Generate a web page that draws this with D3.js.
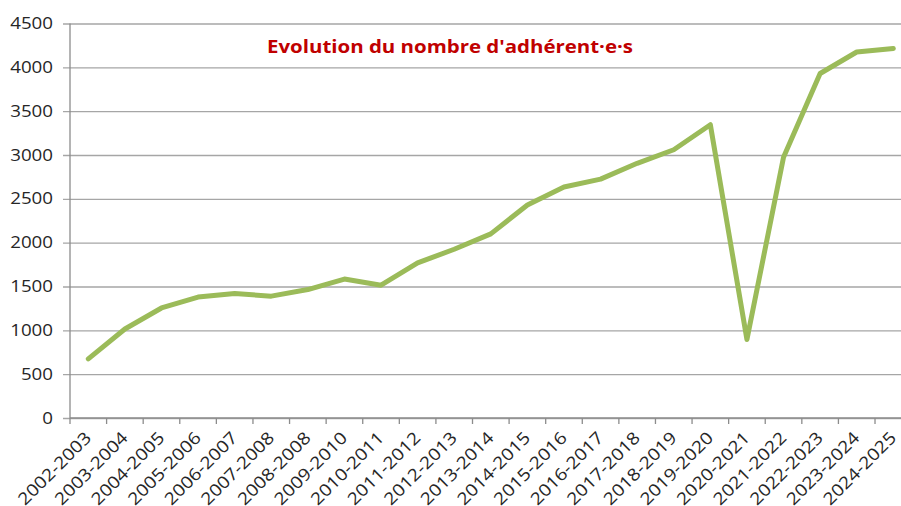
<!DOCTYPE html>
<html>
<head>
<meta charset="utf-8">
<script src="https://cdn.jsdelivr.net/npm/d3@7"></script>
<style>
  body { margin: 0; background: #fff; }
  svg { display: block; }
</style>
</head>
<body>
<svg id="chart" width="901" height="506"></svg>
<script>
// seasons on the x axis
var seasons = ["2002-2003","2003-2004","2004-2005","2005-2006","2006-2007","2007-2008",
  "2008-2008","2009-2010","2010-2011","2011-2012","2012-2013","2013-2014","2014-2015",
  "2015-2016","2016-2017","2017-2018","2018-2019","2019-2020","2020-2021","2021-2022",
  "2022-2023","2023-2024","2024-2025"];

// number of members
var members = [675, 1015, 1255, 1380, 1420, 1390, 1465, 1585, 1515, 1770, 1925, 2100, 2430,
  2635, 2725, 2905, 3060, 3345, 895, 2975, 3930, 4175, 4215];

var yTicks = [0, 500, 1000, 1500, 2000, 2500, 3000, 3500, 4000, 4500];

var title = "Evolution du nombre d'adhérent·e·s";

var svg = d3.select("#chart"),
    width = +svg.attr("width"),
    mLeft = 70, mTop = 23.5, mBottom = 418,
    font = "'Open Sans', sans-serif";

var x = d3.scaleBand().domain(seasons).range([mLeft, 911.6]).padding(0),
    y = d3.scaleLinear().domain([0, 4500]).range([mBottom, mTop]);

// gridlines + y labels
var yAxis = svg.append("g")
    .attr("transform", "translate(" + mLeft + ",0)")
    .call(d3.axisLeft(y).tickValues(yTicks).tickSizeInner(-(width - mLeft)).tickSizeOuter(0).tickPadding(17).tickFormat(d3.format("d")));
yAxis.select(".domain").remove();
yAxis.selectAll(".tick line")
    .attr("x1", -7)
    .attr("stroke", "#a6a6a6")
    .attr("stroke-width", 1.3);
yAxis.selectAll(".tick text")
    .attr("font-family", font)
    .attr("font-size", "16px")
    .attr("fill", "#262626")
    .attr("textLength", function(d) { return String(d).length * 10.7; })
    .attr("lengthAdjust", "spacingAndGlyphs");

// vertical axis line
svg.append("line")
    .attr("x1", mLeft).attr("x2", mLeft)
    .attr("y1", mTop).attr("y2", mBottom + 6)
    .attr("stroke", "#8c8c8c").attr("stroke-width", 1.3);

// x axis baseline + ticks between categories
var xAxis = svg.append("g")
    .attr("transform", "translate(0," + mBottom + ")");
xAxis.append("line")
    .attr("x1", mLeft).attr("x2", width)
    .attr("stroke", "#8c8c8c").attr("stroke-width", 1.3);
xAxis.selectAll(".tk")
    .data(seasons.slice(1))
    .enter().append("line")
    .attr("x1", function(d) { return x(d); })
    .attr("x2", function(d) { return x(d); })
    .attr("y1", 0).attr("y2", 6)
    .attr("stroke", "#8c8c8c").attr("stroke-width", 1.3);

xAxis.selectAll(".lbl")
    .data(seasons)
    .enter().append("text")
    .attr("transform", function(d) {
        return "translate(" + (x(d) + x.bandwidth() / 2 + 4) + ",21) rotate(-45)";
    })
    .attr("text-anchor", "end")
    .attr("font-family", font)
    .attr("font-size", "17px")
    .attr("fill", "#262626")
    .attr("textLength", 95)
    .attr("lengthAdjust", "spacingAndGlyphs")
    .text(function(d) { return d; });

// the line
var line = d3.line()
    .x(function(d, i) { return x(seasons[i]) + x.bandwidth() / 2; })
    .y(function(d) { return y(d); });

svg.append("path")
    .datum(members)
    .attr("d", line)
    .attr("fill", "none")
    .attr("stroke", "#9bbb59")
    .attr("stroke-width", 5)
    .attr("stroke-linejoin", "round")
    .attr("stroke-linecap", "round");

// title
svg.append("text")
    .attr("x", 450).attr("y", 53)
    .attr("text-anchor", "middle")
    .attr("font-family", font)
    .attr("font-weight", "bold")
    .attr("font-size", "18px")
    .attr("fill", "#c00000")
    .attr("textLength", 366)
    .attr("lengthAdjust", "spacingAndGlyphs")
    .text(title);
</script>
</body>
</html>
